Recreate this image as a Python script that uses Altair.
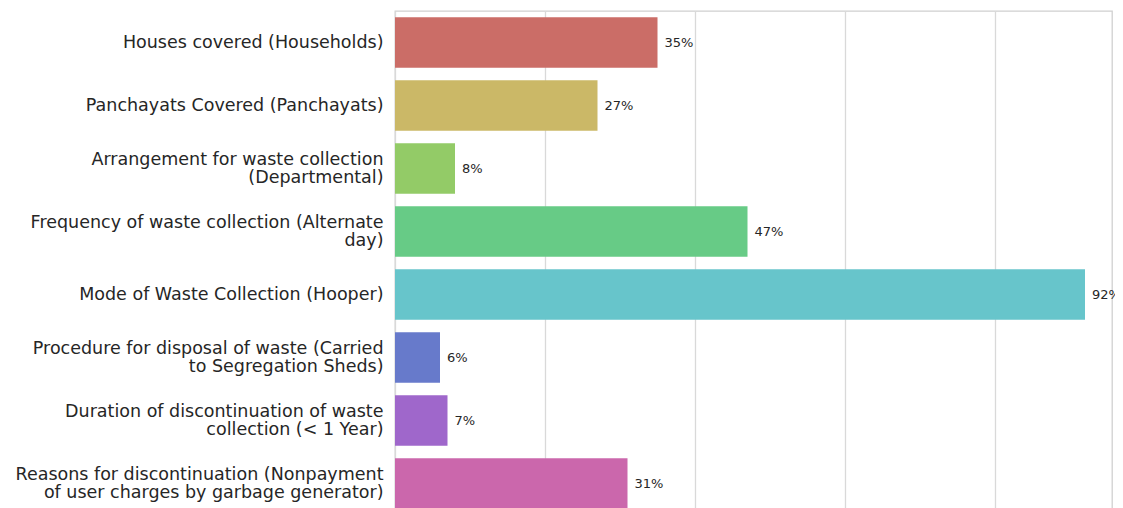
import colorsys
import altair as alt
import pandas as pd

categories = [
    "Houses covered (Households)",
    "Panchayats Covered (Panchayats)",
    "Arrangement for waste collection|(Departmental)",
    "Frequency of waste collection (Alternate|day)",
    "Mode of Waste Collection (Hooper)",
    "Procedure for disposal of waste (Carried|to Segregation Sheds)",
    "Duration of discontinuation of waste|collection (< 1 Year)",
    "Reasons for discontinuation (Nonpayment|of user charges by garbage generator)",
]
values = [35, 27, 8, 47, 92, 6, 7, 31]

# seaborn "hls" palette, desaturated to 0.75 as barplot does
n = len(categories)
colors = []
for i in range(n):
    h = (i / n + 0.01) % 1
    r, g, b = colorsys.hls_to_rgb(h, 0.6, 0.65)
    hh, ll, ss = colorsys.rgb_to_hls(r, g, b)
    r, g, b = colorsys.hls_to_rgb(hh, ll, ss * 0.75)
    colors.append("#%02x%02x%02x" % (round(r * 255), round(g * 255), round(b * 255)))

df = pd.DataFrame({"cat": categories, "val": values,
                   "label": [f"{v}%" for v in values]})

font = "DejaVu Sans"
x = alt.X("val:Q", scale=alt.Scale(domain=[0, 95.6], nice=False, zero=True),
          axis=alt.Axis(values=[0, 20, 40, 60, 80], labels=False, ticks=False,
                        domain=False, title=None, gridColor="#d9d9d9", gridWidth=1.3))
y = alt.Y("cat:N", sort=categories,
          scale=alt.Scale(paddingInner=0.2, paddingOuter=0.1),
          axis=alt.Axis(title=None, ticks=False, domain=False, grid=False,
                        labelExpr="split(datum.label, '|')", labelFontSize=17.5,
                        labelFont=font, labelColor="#262626", labelPadding=12,
                        labelLimit=400, labelLineHeight=18,
                        labelOffset={"condition": {"test": "indexof(datum.value, '|') >= 0",
                                                   "value": -9}, "value": 0}))

bars = alt.Chart(df).mark_bar().encode(
    x=x, y=y,
    color=alt.Color("cat:N", sort=categories,
                    scale=alt.Scale(domain=categories, range=colors), legend=None),
)
text = alt.Chart(df).mark_text(align="left", baseline="middle", dx=7, fontSize=13,
                               font=font, color="#262626").encode(
    x="val:Q", y=alt.Y("cat:N", sort=categories), text="label:N")

chart = (bars + text).properties(
    width=717, height=504,
    autosize=alt.AutoSizeParams(type="none"),
    padding={"left": 387, "top": 3, "right": 3, "bottom": 5},
).configure_view(stroke="#d0d0d0", strokeWidth=1.3)

chart.save("out.html", embed_options={"renderer": "svg", "actions": False})
